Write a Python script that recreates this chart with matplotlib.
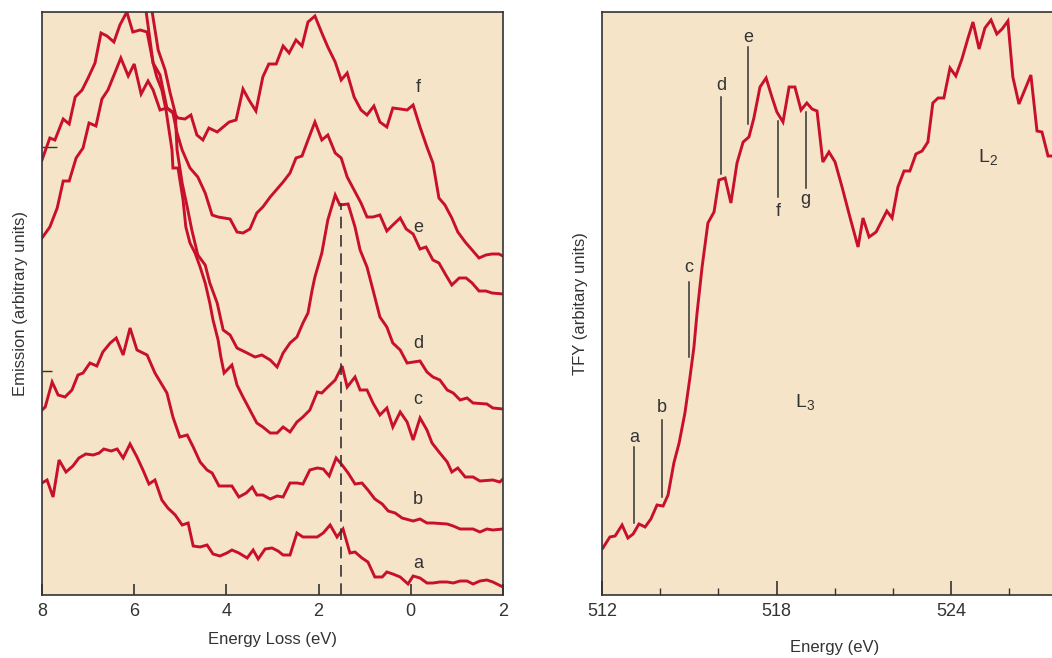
import numpy as np
import matplotlib
matplotlib.use('Agg')
import matplotlib.pyplot as plt
from matplotlib.ticker import FixedLocator, NullFormatter

plt.rcParams['font.family'] = ['Liberation Sans', 'DejaVu Sans']
plt.rcParams['mathtext.default'] = 'regular'

# ---- left panel: emission spectra vs energy loss (eV), arbitrary units ----
f_loss = [8.00, 7.83, 7.72, 7.54, 7.41, 7.28, 7.13, 7.00, 6.85, 6.72, 6.59, 6.44, 6.31, 6.16, 6.03, 5.87,
          5.72, 5.59, 5.44, 5.29, 5.16, 5.05, 4.90, 4.77, 4.64, 4.51, 4.38, 4.20, 3.94, 3.79, 3.64, 3.51,
          3.36, 3.21, 3.08, 2.92, 2.77, 2.64, 2.49, 2.36, 2.23, 2.08, 1.93, 1.80, 1.64, 1.51, 1.38, 1.23,
          1.08, 0.95, 0.80, 0.67, 0.52, 0.39, 0.23, 0.08, -0.05, -0.20, -0.35, -0.48, -0.61, -0.74, -0.89,
          -1.02, -1.18, -1.33, -1.48, -1.63, -1.76, -1.91, -2.00]
f_em = [435, 457, 455, 476, 471, 498, 505, 517, 532, 562, 559, 553, 570, 583, 563, 565,
        563, 532, 520, 487, 483, 477, 476, 480, 460, 455, 467, 463, 473, 475, 506, 495,
        484, 518, 531, 531, 549, 542, 555, 549, 573, 579, 562, 548, 533, 515, 522, 498,
        485, 480, 489, 473, 468, 487, 486, 485, 490, 468, 448, 432, 397, 390, 377,
        363, 353, 345, 337, 340, 341, 341, 339]

e_loss = [8.00, 7.83, 7.67, 7.54, 7.41, 7.26, 7.11, 6.98, 6.83, 6.70, 6.57, 6.42, 6.29, 6.13, 6.00, 5.85,
          5.70, 5.59, 5.44, 5.29, 5.16, 5.07, 4.96, 4.79, 4.62, 4.46, 4.31, 4.18, 3.92, 3.77, 3.64, 3.49,
          3.34, 3.21, 3.05, 2.90, 2.77, 2.62, 2.49, 2.36, 2.23, 2.08, 1.93, 1.80, 1.64, 1.51, 1.38, 1.23,
          1.08, 0.95, 0.82, 0.67, 0.52, 0.39, 0.23, 0.10, -0.05, -0.20, -0.33, -0.48, -0.61, -0.76, -0.89,
          -1.05, -1.20, -1.33, -1.48, -1.63, -1.76, -2.00]
e_em = [357, 368, 387, 414, 414, 437, 447, 472, 469, 496, 505, 522, 537, 519, 531, 501,
        514, 505, 485, 487, 482, 462, 445, 427, 418, 402, 380, 378, 376, 363, 362, 366,
        382, 388, 398, 406, 413, 422, 437, 439, 455, 473, 455, 460, 442, 437, 418, 405,
        392, 378, 378, 380, 364, 370, 377, 366, 361, 346, 348, 335, 332, 320, 310,
        317, 317, 312, 304, 304, 302, 301]

d_loss = [5.66, 5.61, 5.48, 5.33, 5.22, 5.11, 5.07, 4.96, 4.85, 4.75, 4.62, 4.46, 4.36, 4.20, 4.07, 3.92,
          3.77, 3.55, 3.38, 3.23, 3.05, 2.90, 2.77, 2.62, 2.47, 2.34, 2.23, 2.14, 2.08, 1.93, 1.80, 1.64,
          1.54, 1.36, 1.21, 1.10, 0.95, 0.82, 0.67, 0.52, 0.39, 0.23, 0.08, -0.20, -0.35, -0.48, -0.63,
          -0.79, -0.92, -1.07, -1.22, -1.35, -1.65, -1.78, -2.00]
d_em = [625, 583, 545, 525, 502, 482, 445, 412, 388, 365, 340, 330, 312, 292, 265, 260,
        247, 242, 238, 240, 235, 228, 242, 252, 258, 272, 282, 305, 318, 342, 375, 400,
        390, 391, 368, 345, 328, 305, 278, 268, 252, 245, 232, 234, 223, 218, 215,
        205, 202, 195, 197, 192, 191, 187, 186]

c_loss = [5.81, 5.74, 5.59, 5.51, 5.40, 5.31, 5.18, 5.16, 5.05, 4.94, 4.88, 4.79, 4.68, 4.57, 4.46, 4.36,
          4.29, 4.18, 4.12, 4.05, 3.88, 3.77, 3.64, 3.49, 3.34, 3.21, 3.05, 2.90, 2.77, 2.62, 2.47, 2.34,
          2.19, 2.03, 1.93, 1.80, 1.64, 1.49, 1.38, 1.21, 1.10, 0.95, 0.82, 0.67, 0.52, 0.39, 0.23, 0.08,
          -0.05, -0.20, -0.35, -0.46, -0.63, -0.79, -0.89, -1.02, -1.18, -1.35, -1.50, -1.78, -1.93, -2.00]
c_em = [625, 583, 532, 518, 505, 485, 445, 427, 427, 395, 368, 352, 342, 328, 312, 292,
        275, 255, 238, 222, 230, 210, 198, 185, 172, 168, 162, 162, 168, 163, 173, 178,
        185, 203, 202, 208, 215, 229, 208, 218, 205, 205, 192, 180, 187, 168, 183, 173,
        155, 177, 165, 152, 142, 133, 123, 127, 118, 118, 114, 115, 113, 116]

b_loss = [8.00, 7.93, 7.78, 7.65, 7.50, 7.35, 7.22, 7.11, 6.96, 6.81, 6.68, 6.52, 6.39, 6.24, 6.09, 5.94,
          5.72, 5.55, 5.29, 5.16, 5.01, 4.85, 4.72, 4.57, 4.42, 4.31, 4.16, 3.88, 3.73, 3.57, 3.44, 3.34,
          3.21, 3.05, 2.90, 2.77, 2.62, 2.47, 2.34, 2.19, 2.03, 1.90, 1.77, 1.62, 1.49, 1.36, 1.21, 1.06,
          0.93, 0.78, 0.62, 0.49, 0.34, 0.19, -0.05, -0.20, -0.35, -0.48, -0.79, -0.92, -1.07, -1.35,
          -1.50, -1.65, -1.78, -2.00]
b_em = [185, 188, 213, 200, 198, 205, 220, 222, 232, 229, 243, 252, 257, 240, 267, 245,
        240, 222, 202, 178, 158, 160, 148, 133, 125, 122, 109, 109, 98, 102, 108, 100,
        100, 96, 99, 98, 112, 112, 111, 125, 127, 126, 119, 137, 130, 122, 111, 112,
        105, 96, 91, 84, 82, 77, 74, 76, 72, 72, 71, 69, 66, 66,
        63, 66, 65, 66]

a_loss = [8.00, 7.89, 7.76, 7.63, 7.48, 7.33, 7.20, 7.05, 6.89, 6.76, 6.66, 6.50, 6.37, 6.24, 6.09, 5.94,
          5.81, 5.68, 5.55, 5.40, 5.27, 5.11, 4.96, 4.83, 4.72, 4.57, 4.42, 4.29, 4.14, 3.99, 3.88, 3.73,
          3.55, 3.42, 3.31, 3.16, 3.01, 2.88, 2.77, 2.62, 2.47, 2.34, 2.19, 2.03, 1.90, 1.75, 1.60, 1.47,
          1.32, 1.21, 1.06, 0.93, 0.78, 0.62, 0.52, 0.39, 0.23, 0.06, -0.05, -0.20, -0.35, -0.48, -0.63,
          -0.79, -0.92, -1.07, -1.22, -1.35, -1.50, -1.65, -1.78, -2.00]
a_em = [112, 115, 98, 135, 123, 129, 137, 141, 140, 142, 146, 144, 146, 137, 151, 138,
        125, 111, 115, 95, 87, 80, 70, 72, 49, 48, 50, 41, 39, 42, 45, 42,
        37, 45, 36, 46, 47, 44, 40, 40, 62, 58, 58, 58, 62, 70, 58, 66,
        42, 43, 37, 33, 18, 18, 23, 21, 18, 11, 19, 17, 12, 12, 13,
        13, 12, 14, 14, 11, 14, 15, 13, 8]

left_labels = ['f', 'e', 'd', 'c', 'b', 'a']
left_label_y = [508, 368, 252, 195, 95, 32]
left_label_x = -0.16
dash_loss = 1.51

# ---- right panel: total fluorescence yield vs photon energy (eV) ----
tfy_energy = [512.03, 512.27, 512.45, 512.69, 512.89, 513.07, 513.27, 513.48, 513.68, 513.89, 514.10,
              514.27, 514.47, 514.65, 514.85, 515.02, 515.16, 515.26, 515.44, 515.64, 515.85, 516.02,
              516.23, 516.43, 516.64, 516.85, 517.05, 517.22, 517.43, 517.64, 517.84, 518.01, 518.22,
              518.43, 518.63, 518.84, 519.04, 519.22, 519.39, 519.59, 519.80, 520.01, 520.25, 520.52,
              520.80, 520.97, 521.18, 521.42, 521.79, 521.97, 522.17, 522.38, 522.58, 522.79, 523.00,
              523.20, 523.37, 523.55, 523.75, 523.96, 524.16, 524.37, 524.58, 524.75, 524.96, 525.16,
              525.37, 525.57, 525.75, 525.95, 526.12, 526.33, 526.50, 526.74, 526.95, 527.12, 527.33,
              527.53]
tfy = [47, 58, 59, 70, 57, 61, 71, 68, 76, 90, 89,
       100, 132, 152, 182, 217, 248, 280, 328, 372, 383, 415,
       417, 392, 432, 453, 458, 477, 508, 517, 498, 483, 473,
       508, 508, 485, 492, 486, 484, 433, 443, 433, 408, 378,
       348, 377, 358, 363, 384, 377, 408, 424, 424, 441, 444,
       453, 492, 497, 497, 527, 519, 536, 557, 573, 546, 567,
       575, 561, 566, 574, 518, 491, 503, 520, 464, 463, 439,
       439]

mark_names = ['a', 'b', 'c', 'd', 'e', 'f', 'g']
mark_energy = [513.10, 514.07, 514.99, 516.09, 517.02, 518.05, 519.00]
mark_low = [72, 98, 238, 421, 471, 398, 407]
mark_high = [148, 175, 313, 498, 548, 474, 483]
mark_text_y = [158, 187, 327, 510, 558, 383, 395]

bg = '#F5E4C7'
red = '#C8102E'
ink = '#333333'

fig = plt.figure(figsize=(10.52, 6.58), dpi=100)
axl = fig.add_axes([42/1052, 1 - 595/658, 461/1052, 583/658])
axr = fig.add_axes([602/1052, 1 - 595/658, 467/1052, 583/658])

for ax in (axl, axr):
    ax.set_facecolor(bg)
    for s in ax.spines.values():
        s.set_color(ink)
        s.set_linewidth(1.2)
    ax.tick_params(which='both', colors=ink, labelsize=13, direction='in', pad=6)

# left panel
for xs, ys in [(f_loss, f_em), (e_loss, e_em), (d_loss, d_em),
               (c_loss, c_em), (b_loss, b_em), (a_loss, a_em)]:
    axl.plot(xs, ys, color=red, lw=2.1, solid_joinstyle='miter')
axl.plot([dash_loss, dash_loss], [0, 392], color=ink, lw=1.2, dashes=(7, 4))
for name, yy in zip(left_labels, left_label_y):
    axl.text(left_label_x, yy, name, fontsize=13, color=ink, ha='center', va='center')

axl.set_xlim(8, -2)
axl.set_ylim(0, 583)
axl.set_xticks([8, 6, 4, 2, 0, -2])
axl.set_xticklabels(['8', '6', '4', '2', '0', '2'])
axl.tick_params(axis='x', length=8, width=1.2)
axl.set_yticks([448])
axl.set_yticklabels([])
axl.yaxis.set_minor_locator(FixedLocator([224]))
axl.yaxis.set_minor_formatter(NullFormatter())
axl.tick_params(axis='y', which='major', length=11, width=1.0)
axl.tick_params(axis='y', which='minor', length=7, width=1.0)
axl.set_xlabel('Energy Loss (eV)', fontsize=12, color=ink)
axl.set_ylabel('Emission (arbitrary units)', fontsize=12, color=ink)
axl.xaxis.set_label_coords(0.499, -0.063)
axl.yaxis.set_label_coords(-0.030, 0.5)

# right panel
axr.plot(tfy_energy, tfy, color=red, lw=2.1, solid_joinstyle='miter')
for name, xx, lo, hi, ty in zip(mark_names, mark_energy, mark_low, mark_high, mark_text_y):
    axr.plot([xx, xx], [lo, hi], color=ink, lw=1.1)
    axr.text(xx, ty, name, fontsize=13, color=ink, ha='center', va='center')
axr.text(518.98, 193, r'$\mathregular{L_3}$', fontsize=14, color=ink, ha='center', va='center')
axr.text(525.26, 438, r'$\mathregular{L_2}$', fontsize=14, color=ink, ha='center', va='center')

axr.set_xlim(512, 528.05)
axr.set_ylim(0, 583)
axr.set_xticks([512, 518, 524])
axr.xaxis.set_minor_locator(FixedLocator([514, 516, 520, 522, 526]))
axr.tick_params(axis='x', which='major', length=10, width=1.2)
axr.tick_params(axis='x', which='minor', length=5, width=1.0)
axr.set_yticks([])
axr.set_xlabel('Energy (eV)', fontsize=12, color=ink)
axr.set_ylabel('TFY (arbitary units)', fontsize=12, color=ink)
axr.xaxis.set_label_coords(0.499, -0.077)
axr.yaxis.set_label_coords(-0.030, 0.5)

fig.savefig('out.png', dpi=100)
